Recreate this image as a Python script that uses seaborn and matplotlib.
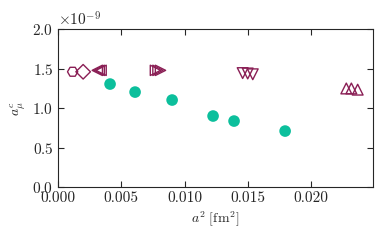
import numpy as np
import pandas as pd
import matplotlib
matplotlib.use("Agg")
import matplotlib.pyplot as plt
import matplotlib.ticker as mticker
import seaborn as sns

# green points (y in units of 1e-9)
a2_green = [0.00411, 0.00609, 0.00902, 0.01226, 0.01392, 0.01796]
amu_green = [1.306, 1.204, 1.103, 0.900, 0.836, 0.709]

# open maroon markers, one group per marker shape
groups = {
    "H": ([0.00115], [1.462]),
    "D": ([0.00198], [1.462]),
    "<": ([0.0031, 0.00325, 0.0034], [1.48, 1.48, 1.48]),
    ">": ([0.0077, 0.0079, 0.0081], [1.48, 1.48, 1.48]),
    "v": ([0.0146, 0.0150, 0.0154], [1.445, 1.44, 1.43]),
    "^": ([0.0228, 0.0232, 0.0237], [1.25, 1.25, 1.235]),
}
marker_sizes = {"H": 55, "D": 55, "<": 55, ">": 55, "v": 60, "^": 60}

green = "#0cbf9c"
maroon = "#8a1f55"
scale = 1e-9

sns.set_style("ticks")
plt.rcParams["font.family"] = "serif"
plt.rcParams["font.serif"] = ["cmr10"]
plt.rcParams["mathtext.fontset"] = "cm"
plt.rcParams["axes.formatter.use_mathtext"] = True
plt.rcParams["axes.unicode_minus"] = False

fig = plt.figure(figsize=(3.9, 2.41), dpi=100)
ax = fig.add_axes([0.149, 0.2245, 0.807, 0.6535])

for m, (xs, ys) in groups.items():
    sns.scatterplot(x=xs, y=np.array(ys) * scale, marker=m, s=marker_sizes[m],
                    facecolor="none", edgecolor=maroon, linewidth=1.0, ax=ax, zorder=3)

sns.scatterplot(x=a2_green, y=np.array(amu_green) * scale, s=70,
                color=green, edgecolor="none", ax=ax, zorder=3)

ax.set_xlim(0, 0.0249)
ax.set_ylim(0, 2.0e-9)
ax.set_xticks([0.0, 0.005, 0.010, 0.015, 0.020])
ax.set_yticks(np.arange(0, 2.01, 0.5) * scale)
ax.xaxis.set_major_formatter(mticker.FormatStrFormatter("%.3f"))
ax.tick_params(direction="in", top=True, right=True, labelsize=11, length=4, width=0.8)
ax.yaxis.get_offset_text().set_fontsize(11)
ax.set_xlabel(r"$a^2\ [\mathrm{fm}^2]$", fontsize=10, labelpad=3)
ax.set_ylabel(r"$a_\mu^c$", fontsize=10)
for sp in ax.spines.values():
    sp.set_linewidth(0.8)

fig.savefig("out.png", dpi=100)
